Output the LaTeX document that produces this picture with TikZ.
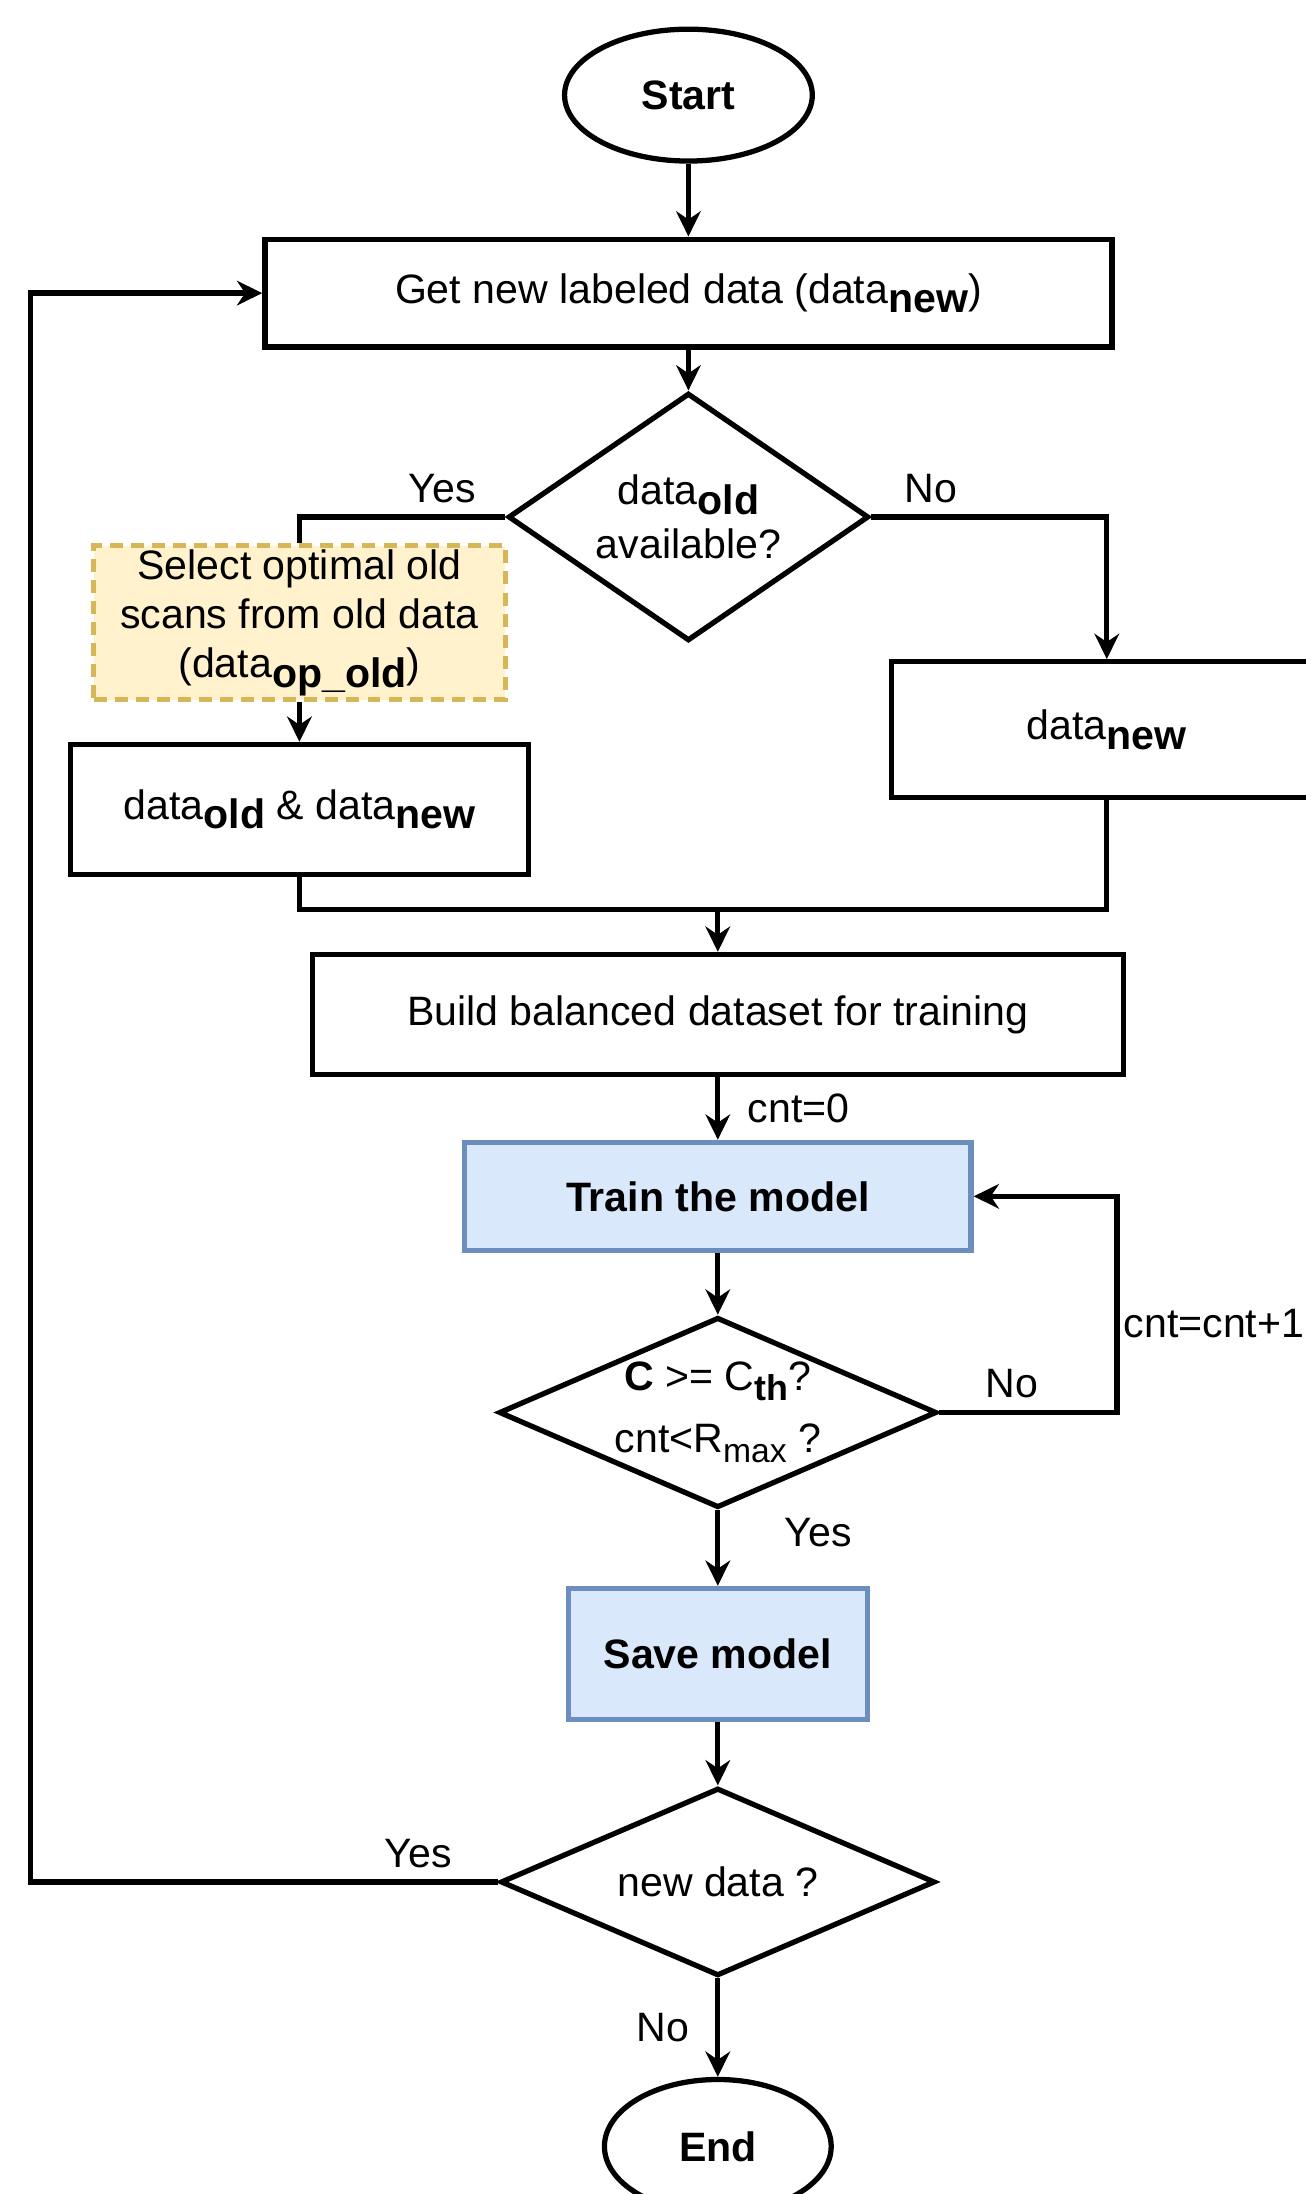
\documentclass[tikz,border=0pt]{standalone}
\usepackage{fontspec}
\setmainfont{Liberation Sans}
\usetikzlibrary{shapes.geometric, arrows.meta}

\definecolor{trainfill}{HTML}{DAE8FC}
\definecolor{trainline}{HTML}{6C8EBF}
\definecolor{selfill}{HTML}{FFF2CC}
\definecolor{selline}{HTML}{D6B656}

% 下标 (粗体 / 常规)
\newcommand{\bsub}[1]{\raisebox{-2.7pt}{\bfseries #1}}
\newcommand{\tsub}[1]{\raisebox{-2.7pt}{\fontsize{10.2}{10}\selectfont\bfseries #1}}
\newcommand{\msub}[1]{\raisebox{-2.9pt}{\fontsize{9.6}{10}\selectfont #1}}

\begin{document}
\begin{tikzpicture}[x=0.014cm, y=0.014cm, >={Stealth[length=7.2pt, width=7pt]}, line width=1.5pt,
		every node/.style={font=\fontsize{11.7}{14}\selectfont},
		box/.style={draw, rectangle, align=center, inner sep=0pt},
		bluebox/.style={box, fill=trainfill, draw=trainline, font=\fontsize{11.7}{14}\selectfont\bfseries},
		selbox/.style={box, fill=selfill, draw=selline, dash pattern=on 3.7pt off 2.3pt},
		decision/.style={draw, diamond, align=center, inner sep=0pt},
		term/.style={draw, ellipse, font=\fontsize{11.7}{14}\selectfont\bfseries}]
	
	\useasboundingbox (0,0) rectangle (933,1568);
	
	% ==================== 节点 ====================
	\node[term, minimum width=2.48cm, minimum height=1.32cm] (start) at (492,1500) {Start};
	\node[box, minimum width=8.48cm, minimum height=1.08cm] (getdata) at (492,1358.5) {Get new labeled data (data\bsub{new})};
	\node[decision, aspect=1.46, minimum width=3.61cm, minimum height=2.48cm] (q1) at (492,1198.5) {data\bsub{old}\\[1.2pt] available?};
	
	% 左分支 / 右分支
	\node[selbox, minimum width=4.12cm, minimum height=1.54cm] (sel) at (214,1123) {Select optimal old\\scans from old data\\(data\bsub{op\_old})};
	\node[box, minimum width=4.58cm, minimum height=1.30cm] (both) at (214,989.5) {data\bsub{old} \& data\bsub{new}};
	\node[box, minimum width=4.31cm, minimum height=1.36cm] (newonly) at (791,1046.5) {data\bsub{new}};
	\coordinate (join) at (513,918);
	
	% 训练循环
	\node[box, minimum width=8.12cm, minimum height=1.20cm] (build) at (513,843) {Build balanced dataset for training};
	\node[bluebox, minimum width=5.07cm, minimum height=1.08cm] (train) at (513,713) {Train the model};
	\node[decision, aspect=2.3, minimum width=4.34cm, minimum height=1.89cm] (q2) at (513,558.5) {\textbf{C} >= C\tsub{th}?\\[3.5pt] cnt<R\msub{max} ?};
	\node[bluebox, minimum width=2.99cm, minimum height=1.31cm] (save) at (513,386) {Save model};
	\node[decision, aspect=2.3, minimum width=4.35cm, minimum height=1.88cm] (q3) at (513,223) {new data ?};
	\node[term, minimum width=2.27cm, minimum height=1.34cm] (end) at (513,34) {End};
	
	% ==================== 连线 ====================
	\draw[->] (start) -- (getdata);
	\draw[->] (getdata) -- (q1);
	\draw (q1.west) -| node[above, pos=0.153] (yes1) {Yes} (sel.north);
	\draw[->] (sel) -- (both);
	\draw[->] (q1.east) -| node[above, pos=0.126] (no1) {No} (newonly.north);
	\draw (both.south) |- (join) -| (newonly.south);
	\draw[->] (join) -- (build);
	\draw[->] (build) -- node[right, xshift=4.5pt] (cnt0) {cnt=0} (train);
	\draw[->] (train) -- (q2);
	\draw[->] (q2.east) -- node[above, pos=0.41] (no2) {No} ++(127,0) |- node[right, pos=0.205, xshift=-2.2pt] (incr) {cnt=cnt+1} (train.east); % 重复训练
	\draw[->] (q2) -- node[right, pos=0.29, xshift=15pt] (yes2) {Yes} (save);
	\draw[->] (save) -- (q3);
	\draw[->] (q3.west) -- node[above, pos=0.17] (yes3) {Yes} ++(-334,0) |- (getdata.west); % 返回取数据
	\draw[->] (q3) -- node[left, xshift=-4pt] (no3) {No} (end);
	
\end{tikzpicture}
\end{document}
